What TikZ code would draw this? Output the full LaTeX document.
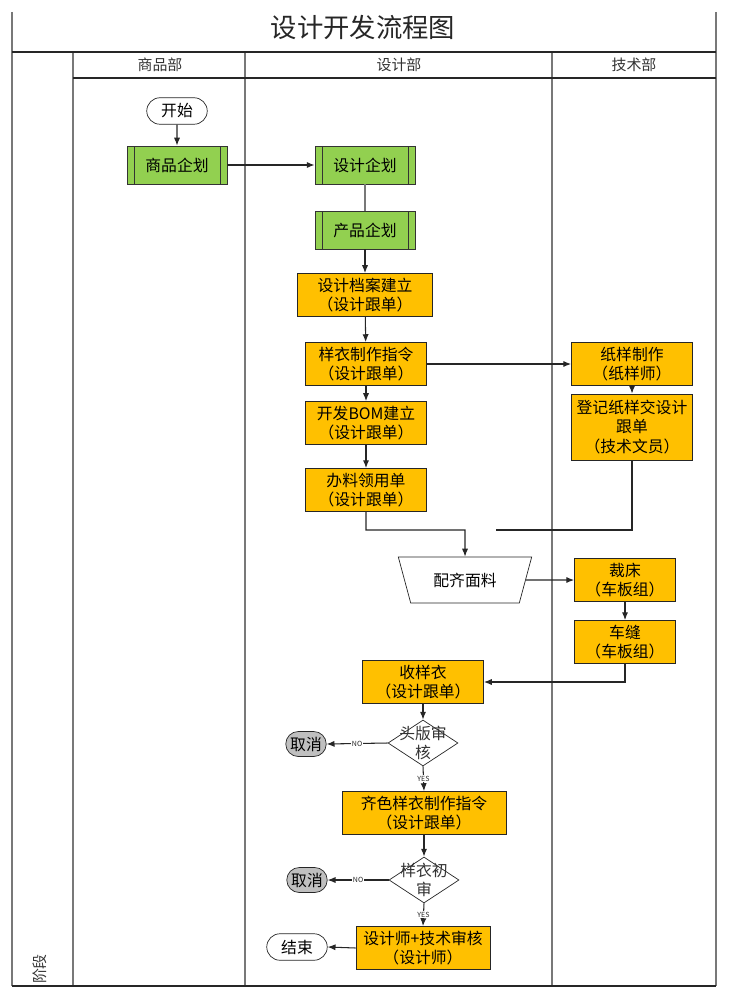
\documentclass[tikz,border=0pt]{standalone}
\usepackage{fontspec}
\setmainfont{Noto Sans CJK SC}
\usetikzlibrary{arrows.meta, shapes.geometric, shapes.misc}
\definecolor{PlanGreen}{RGB}{146,208,80}
\definecolor{TaskOrange}{RGB}{255,192,0}
\definecolor{CancelGray}{RGB}{191,191,191}
\definecolor{LaneGray}{RGB}{120,120,120}

\begin{document}
\begin{tikzpicture}[x=0.02cm, y=-0.02cm,
    lane/.style={LaneGray, line width=0.8pt},
    rule/.style={black!85, line width=1.1pt},
    txt/.style={font=\fontsize{9}{11}\selectfont},
    hdr/.style={font=\fontsize{8.5}{10}\selectfont, text=black!80},
    plan/.style={rectangle, draw=black!80, fill=PlanGreen, txt,
      minimum width=2cm, minimum height=0.76cm, inner sep=0pt,
      path picture={
        \draw[black!80] ([xshift=0.14cm]path picture bounding box.north west)
          -- ([xshift=0.14cm]path picture bounding box.south west);
        \draw[black!80] ([xshift=-0.14cm]path picture bounding box.north east)
          -- ([xshift=-0.14cm]path picture bounding box.south east);}},
    task/.style={rectangle, draw=black!85, fill=TaskOrange, txt, align=center,
      minimum width=2.42cm, minimum height=0.86cm, inner sep=1pt},
    term/.style={rounded rectangle, draw=black!85, fill=white, txt,
      minimum width=1.28cm, minimum height=0.53cm, inner sep=1pt},
    cancel/.style={rounded rectangle, draw=black!85, fill=CancelGray, txt,
      minimum width=0.88cm, minimum height=0.5cm, inner sep=1pt},
    manual/.style={trapezium, shape border rotate=180, trapezium stretches=true,
      trapezium angle=72, draw=black!85, fill=white, txt,
      minimum width=2.68cm, minimum height=0.92cm},
    check/.style={diamond, draw=black!85, fill=white, inner sep=0pt,
      minimum width=1.4cm, minimum height=0.92cm},
    arr/.style={-{Latex[length=4.5pt,width=3.5pt]}, black!85, line width=0.6pt},
    flag/.style={fill=white, inner sep=0.6pt, font=\fontsize{4}{4}\selectfont}]
  \useasboundingbox (0,0) rectangle (742,1000);

  % frame and lanes
  \draw[lane] (12,12) -- (12,986);
  \draw[lane] (716,12) -- (716,986);
  \draw[lane] (73,52) -- (73,986);
  \draw[lane] (245,52) -- (245,986);
  \draw[lane] (552,52) -- (552,986);
  \draw[rule] (12,52) -- (716,52);
  \draw[rule] (73,78) -- (716,78);
  \draw[rule] (12,986) -- (716,986);

  \node[font=\fontsize{15}{18}\selectfont, text=black!85] (title) at (363,27) {设计开发流程图};
  \node[hdr] (laneA) at (160,65) {商品部};
  \node[hdr] (laneB) at (399,65) {设计部};
  \node[hdr] (laneC) at (634,65) {技术部};
  \node[hdr, rotate=90] (stage) at (40,969) {阶段};

  % steps
  \node[term] (start) at (177,111) {开始};
  \node[plan] (bizplan) at (177,165) {商品企划};
  \node[plan] (designplan) at (365,165) {设计企划};
  \node[plan] (prodplan) at (365,230) {产品企划};
  \node[task, minimum width=2.7cm] (archive) at (365,295) {设计档案建立\\（设计跟单）};
  \node[task] (sample) at (366,364) {样衣制作指令\\（设计跟单）};
  \node[task] (bom) at (366,423) {开发BOM建立\\（设计跟单）};
  \node[task] (material) at (366,490) {办料领用单\\（设计跟单）};
  \node[task] (pattern) at (632,364) {纸样制作\\（纸样师）};
  \node[task, minimum height=1.32cm] (register) at (632,427) {登记纸样交设计\\跟单\\（技术文员）};
  \node[manual] (fabric) at (465,580) {配齐面料};
  \node[task, minimum width=2.02cm] (cutting) at (625,580) {裁床\\（车板组）};
  \node[task, minimum width=2.02cm] (sewing) at (625,642) {车缝\\（车板组）};
  \node[task] (receive) at (423,682) {收样衣\\（设计跟单）};
  \node[check, label={[txt, align=center, text=black!80]center:头版审\\核}] (firstcheck) at (423,743) {};
  \node[cancel] (cancelA) at (306,744) {取消};
  \node[task, minimum width=3.28cm] (colorway) at (424,813) {齐色样衣制作指令\\（设计跟单）};
  \node[check, label={[txt, align=center, text=black!80]center:样衣初\\审}] (samplecheck) at (424,880) {};
  \node[cancel] (cancelB) at (307,880) {取消};
  \node[task, minimum width=2.68cm] (review) at (423,948) {设计师+技术审核\\（设计师）};
  \node[term] (finish) at (297,947) {结束};

  \coordinate (joinA) at (465,530);
  \coordinate (joinB) at (496,530);

  % connectors
  \draw[arr] (start) -- (bizplan);
  \draw[arr] (bizplan) -- (designplan);
  \draw[LaneGray, line width=0.6pt] (designplan) -- (prodplan);
  \draw[arr] (prodplan) -- (archive);
  \draw[arr] (archive) -- (sample);
  \draw[arr] (sample) -- (bom);
  \draw[arr] (bom) -- (material);
  \draw[arr] (sample) -- (pattern);
  \draw[arr] (pattern) -- (register);
  \draw[arr] (material.south) |- (joinA) -- (fabric.north);
  \draw[black!85, line width=0.6pt] (register.south) |- (joinB);
  \draw[arr] (fabric.east) -- (cutting.west);
  \draw[arr] (cutting) -- (sewing);
  \draw[arr] (sewing.south) |- (receive.east);
  \draw[arr] (receive) -- (firstcheck);
  \draw[arr] (firstcheck.west) -- node[flag] {NO} (cancelA.east);
  \draw[arr] (firstcheck.south) -- node[flag] {YES} (colorway.north);
  \draw[arr] (colorway) -- (samplecheck);
  \draw[arr] (samplecheck.west) -- node[flag] {NO} (cancelB.east);
  \draw[arr] (samplecheck.south) -- node[flag] {YES} (review.north);
  \draw[arr] (review.west) -- (finish.east);
\end{tikzpicture}
\end{document}
